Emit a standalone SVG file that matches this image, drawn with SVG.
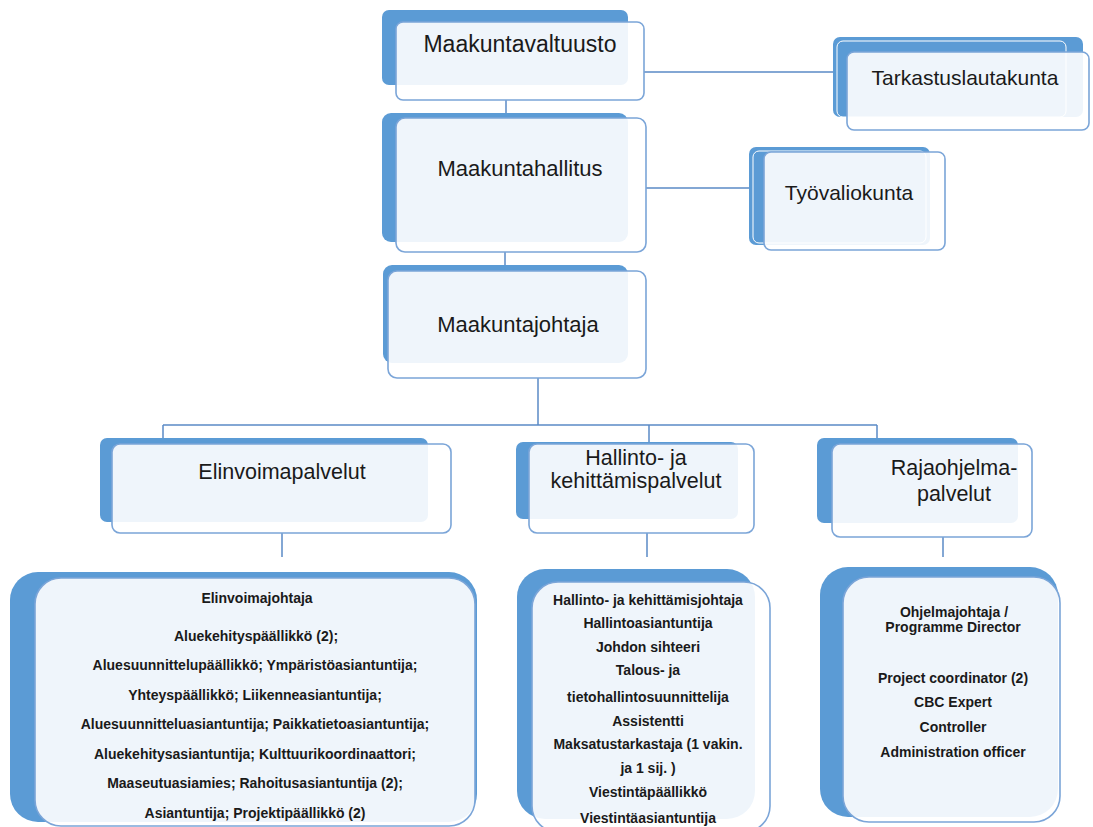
<svg xmlns="http://www.w3.org/2000/svg" width="1093" height="827" viewBox="0 0 1093 827">
<style>
.back{fill:#5b9bd5}
.mid{fill:#5b9bd5;stroke:#ffffff;stroke-width:1}
.front{fill:#ffffff;fill-opacity:0.9;stroke:#7ba5d8;stroke-width:1.6}
.t{font-family:"Liberation Sans",Arial,sans-serif;fill:#1a1a1a;text-anchor:middle}
.b{font-family:"Liberation Sans",Arial,sans-serif;font-weight:bold;font-size:14px;fill:#1a1a1a;text-anchor:middle}
.conn line{stroke:#5a8ac6;stroke-width:1.5}
</style>
<rect width="1093" height="827" fill="#ffffff"/>

<g id="connectors" class="conn">
  <line x1="506" y1="100" x2="506" y2="118"/>
  <line x1="644" y1="72" x2="835" y2="72"/>
  <line x1="505" y1="252" x2="505" y2="268"/>
  <line x1="646" y1="188" x2="750" y2="188"/>
  <line x1="538" y1="378" x2="538" y2="425"/>
  <line x1="163" y1="425" x2="877" y2="425"/>
  <line x1="163" y1="425" x2="163" y2="438"/>
  <line x1="649" y1="425" x2="649" y2="447"/>
  <line x1="877" y1="425" x2="877" y2="438"/>
  <line x1="282" y1="533" x2="282" y2="557"/>
  <line x1="647" y1="533" x2="647" y2="557"/>
  <line x1="943" y1="537" x2="943" y2="557"/>
</g>

<g id="maakuntavaltuusto">
  <rect class="back" x="382" y="10" width="246" height="75" rx="7"/>
  <rect class="front" x="396" y="22" width="248" height="78" rx="7"/>
  <text class="t" x="520" y="52" font-size="23">Maakuntavaltuusto</text>
</g>

<g id="tarkastuslautakunta">
  <rect class="back" x="833" y="37" width="250" height="80" rx="7"/>
  <rect class="mid" x="837" y="41" width="229" height="76" rx="6"/>
  <rect class="front" x="847" y="52" width="242" height="78" rx="7"/>
  <text class="t" x="965" y="85" font-size="21">Tarkastuslautakunta</text>
</g>

<g id="maakuntahallitus">
  <rect class="back" x="382" y="113" width="246" height="129" rx="9"/>
  <rect class="front" x="396" y="118" width="250" height="134" rx="9"/>
  <text class="t" x="520" y="176" font-size="22">Maakuntahallitus</text>
</g>

<g id="tyovaliokunta">
  <rect class="back" x="749" y="147" width="181" height="98" rx="7"/>
  <rect class="mid" x="753" y="151" width="173" height="92" rx="6"/>
  <rect class="front" x="764" y="152" width="181" height="98" rx="7"/>
  <text class="t" x="849" y="200" font-size="21">Työvaliokunta</text>
</g>

<g id="maakuntajohtaja">
  <rect class="back" x="383" y="265" width="245" height="98" rx="9"/>
  <rect class="front" x="388" y="271" width="258" height="107" rx="9"/>
  <text class="t" x="518" y="332" font-size="22">Maakuntajohtaja</text>
</g>

<g id="elinvoimapalvelut">
  <rect class="back" x="100" y="438" width="328" height="84" rx="7"/>
  <rect class="front" x="112" y="444" width="339" height="89" rx="8"/>
  <text class="t" x="282" y="479" font-size="21.5">Elinvoimapalvelut</text>
</g>

<g id="hallintopalvelut">
  <rect class="back" x="516" y="442" width="222" height="77" rx="7"/>
  <rect class="front" x="529" y="444" width="225" height="89" rx="8"/>
  <text class="t" x="636" y="465" font-size="21.5">Hallinto- ja</text>
  <text class="t" x="636" y="488" font-size="21.5">kehittämispalvelut</text>
</g>

<g id="rajaohjelmapalvelut">
  <rect class="back" x="817" y="438" width="201" height="85" rx="7"/>
  <rect class="front" x="832" y="444" width="200" height="93" rx="8"/>
  <text class="t" x="954" y="475" font-size="21.5">Rajaohjelma-</text>
  <text class="t" x="954" y="501" font-size="21.5">palvelut</text>
</g>

<g id="elinvoimajohtaja">
  <rect class="back" x="10" y="572" width="467" height="250" rx="28"/>
  <rect class="front" x="35" y="578" width="440" height="248" rx="26"/>
  <text class="b" x="257" y="603">Elinvoimajohtaja</text>
  <text class="b" x="256" y="641">Aluekehityspäällikkö (2);</text>
  <text class="b" x="255" y="670">Aluesuunnittelupäällikkö; Ympäristöasiantuntija;</text>
  <text class="b" x="255" y="700">Yhteyspäällikkö; Liikenneasiantuntija;</text>
  <text class="b" x="255" y="729">Aluesuunnitteluasiantuntija; Paikkatietoasiantuntija;</text>
  <text class="b" x="255" y="759">Aluekehitysasiantuntija; Kulttuurikoordinaattori;</text>
  <text class="b" x="255" y="788">Maaseutuasiamies; Rahoitusasiantuntija (2);</text>
  <text class="b" x="255" y="818">Asiantuntija; Projektipäällikkö (2)</text>
</g>

<g id="hallintojohtaja">
  <rect class="back" x="517" y="569" width="238" height="250" rx="28"/>
  <rect class="front" x="532" y="582" width="238" height="250" rx="26"/>
  <text class="b" x="648" y="605">Hallinto- ja kehittämisjohtaja</text>
  <text class="b" x="648" y="628">Hallintoasiantuntija</text>
  <text class="b" x="648" y="652">Johdon sihteeri</text>
  <text class="b" x="648" y="675">Talous- ja</text>
  <text class="b" x="648" y="702">tietohallintosuunnittelija</text>
  <text class="b" x="648" y="726">Assistentti</text>
  <text class="b" x="648" y="749">Maksatustarkastaja (1 vakin.</text>
  <text class="b" x="648" y="773">ja 1 sij. )</text>
  <text class="b" x="648" y="797">Viestintäpäällikkö</text>
  <text class="b" x="648" y="823">Viestintäasiantuntija</text>
</g>

<g id="ohjelmajohtaja">
  <rect class="back" x="820" y="567" width="238" height="250" rx="28"/>
  <rect class="front" x="843" y="577" width="217" height="245" rx="26"/>
  <text class="b" x="954" y="617">Ohjelmajohtaja /</text>
  <text class="b" x="953" y="632">Programme Director</text>
  <text class="b" x="953" y="683">Project coordinator (2)</text>
  <text class="b" x="953" y="707">CBC Expert</text>
  <text class="b" x="953" y="732">Controller</text>
  <text class="b" x="953" y="757">Administration officer</text>
</g>
</svg>
